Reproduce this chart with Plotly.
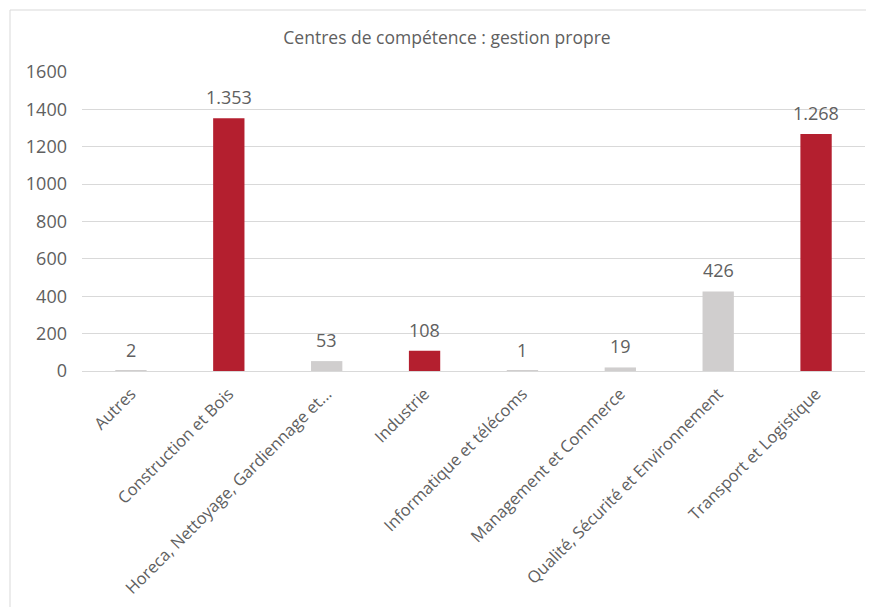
import plotly.graph_objects as go

categories = ["Autres", "Construction et Bois", "Horeca, Nettoyage, Gardiennage et...",
              "Industrie", "Informatique et télécoms", "Management et Commerce",
              "Qualité, Sécurité et Environnement", "Transport et Logistique"]
values = [2, 1353, 53, 108, 1, 19, 426, 1268]
highlight = [False, True, False, True, False, False, False, True]
title_text = "Centres de compétence : gestion propre"

RED = "#B41F2F"
GREY = "#D0CECE"
TXT = "#606060"
FONT = "Open Sans"

# page body has an 8px margin: positions below are screen positions minus 8
OFF = 8
L, R, T, B = 82 - OFF, 865 - OFF, 72 - OFF, 371 - OFF
W, H = 874, 607
PW, PH = R - L, B - T

colors = [RED if h else GREY for h in highlight]
labels = [f"{v:,}".replace(",", ".") for v in values]

fig = go.Figure(go.Bar(x=categories, y=values, marker_color=colors, width=0.32,
                       marker_line_width=0, hoverinfo="skip"))

for c, v, t in zip(categories, values, labels):
    fig.add_annotation(x=c, y=v, text=t, showarrow=False, yanchor="bottom",
                       yshift=7, font=dict(family=FONT, size=18, color=TXT))

fig.add_shape(type="rect", xref="paper", yref="paper",
              x0=(10 - OFF - L) / PW, x1=(W + 20 - L) / PW,
              y0=(B - (H + 20)) / PH, y1=1 + (T - (10 - OFF)) / PH,
              line=dict(color="#D9D9D9", width=1), fillcolor="rgba(0,0,0,0)", layer="below")

fig.update_layout(
    width=W, height=H,
    margin=dict(l=L, r=W - R, t=T, b=H - B),
    paper_bgcolor="white", plot_bgcolor="white",
    showlegend=False,
    title=dict(text=title_text, x=(447 - OFF) / W, xanchor="center", xref="container",
               y=1 - (38 - OFF) / H, yanchor="middle",
               font=dict(family=FONT, size=17.5, color=TXT)),
    font=dict(family=FONT, color=TXT),
)
fig.update_yaxes(range=[0, 1600], dtick=200, showgrid=True, gridcolor="#D9D9D9", gridwidth=1,
                 zeroline=True, zerolinecolor="#D9D9D9", zerolinewidth=1,
                 showline=False, ticks="", automargin=False, ticklabelstandoff=14,
                 tickfont=dict(family=FONT, size=18, color=TXT))
fig.update_xaxes(tickangle=-45, showline=False, ticks="", showgrid=False, automargin=False,
                 ticklabelstandoff=9,
                 tickfont=dict(family=FONT, size=16.5, color=TXT))

fig.write_html("out.html")
